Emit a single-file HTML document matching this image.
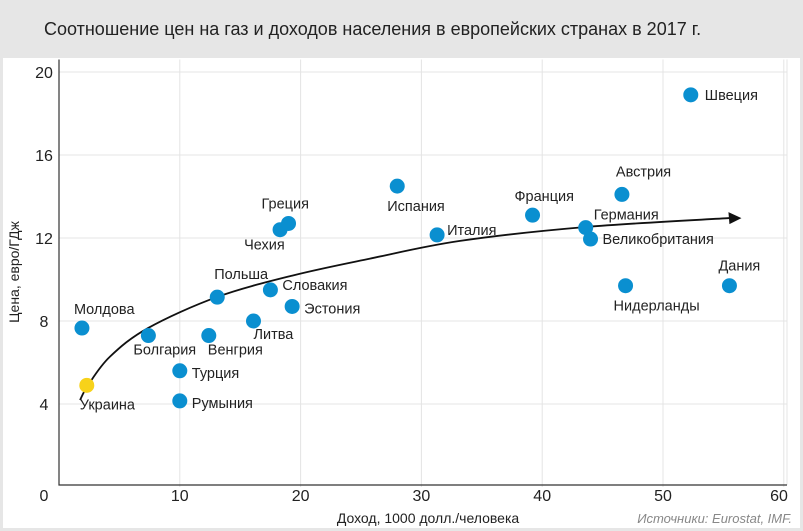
<!DOCTYPE html>
<html><head><meta charset="utf-8"><style>
body{margin:0;background:#e6e6e6;font-family:"Liberation Sans",sans-serif;}
svg{display:block}
</style></head><body>
<svg width="803" height="531">
<rect x="0" y="0" width="803" height="531" fill="#e6e6e6"/>
<rect x="3" y="58" width="797" height="470" fill="#fff"/>
<text x="44" y="35" font-size="18" fill="#222">Соотношение цен на газ и доходов населения в европейских странах в 2017 г.</text>
<g id="grid"></g><g id="axes"></g><g id="trend"></g><g id="pts"></g>
<text transform="translate(19,272) rotate(-90)" text-anchor="middle" font-size="14" fill="#222">Цена, евро/ГДж</text>
<text x="428" y="523" text-anchor="middle" font-size="14" fill="#222">Доход, 1000 долл./человека</text>
<text x="792" y="523" text-anchor="end" font-size="13" font-style="italic" fill="#888">Источники: Eurostat, IMF.</text>
</svg>
<script>
const countries=["Швеция","Молдова","Украина","Болгария","Турция","Румыния","Венгрия","Польша","Литва","Чехия","Греция","Словакия","Эстония","Испания","Италия","Франция","Австрия","Германия","Великобритания","Нидерланды","Дания"];
const income=[52.3,1.9,2.3,7.4,10.0,10.0,12.4,13.1,16.1,18.3,19.0,17.5,19.3,28.0,31.3,39.2,46.6,43.6,44.0,46.9,55.5];
const price=[18.9,7.66,4.9,7.3,5.6,4.15,7.3,9.15,8.0,12.4,12.7,9.5,8.7,14.5,12.15,13.1,14.1,12.5,11.95,9.7,9.7];
const trendX=[1.74,2.4,4.2,7.37,13.1,19.4,25.7,33.2,43.6,55.5];
const trendY=[4.19,4.9,6.27,7.66,9.16,10.2,11.0,11.86,12.53,12.96];
const xTicks=[0,10,20,30,40,50,60];
const yTicks=[0,4,8,12,16,20];
const labelOff=[[14,5,"start"],[-8,-14,"start"],[-7,24,"start"],[-15,19,"start"],[12,7,"start"],[12,7,"start"],[-1,19,"start"],[-3,-18,"start"],[0,18,"start"],[-36,20,"start"],[-27,-15,"start"],[12,0,"start"],[12,7,"start"],[-10,25,"start"],[10,0,"start"],[-18,-14,"start"],[-6,-18,"start"],[8,-8,"start"],[12,5,"start"],[-12,25,"start"],[-11,-15,"start"]];
const NS="http://www.w3.org/2000/svg";
const X=v=>59+v*12.08, Y=v=>487-v*20.75;
function mk(p,t,a){const e=document.createElementNS(NS,t);for(const k in a)e.setAttribute(k,a[k]);document.getElementById(p).appendChild(e);return e;}
xTicks.forEach((t,i)=>{
 if(t>0){const l=mk('grid','line',{x1:X(t),x2:X(t),y1:Y(20.6),y2:Y(0),stroke:'#e4e4e4'});
 
 }
 const tx=mk('axes','text',{x:t==0?44:(t==60?779:X(t)),y:501,'text-anchor':'middle','font-size':16,fill:'#222'});tx.textContent=t;
 
 
});
yTicks.forEach(t=>{
 if(t>0){const l=mk('grid','line',{x1:X(0),x2:787,y1:Y(t),y2:Y(t),stroke:'#e4e4e4'});
 
 
 const tx=mk('axes','text',{x:44,y:Y(t)+6,'text-anchor':'middle','font-size':16,fill:'#222'});tx.textContent=t;
 
 }
});
const rl=mk('grid','line',{x1:787,x2:787,y1:Y(20.6),y2:485,stroke:'#e4e4e4'});


const ax=mk('axes','path',{d:`M59 ${Y(20.6)} V485 H787`,fill:'none',stroke:'#333','stroke-width':1.2});


const P=trendX.map((v,i)=>[X(v),Y(trendY[i])]);
let d='M'+P[0][0]+' '+P[0][1];
for(let i=0;i<P.length-1;i++){
 const p0=P[Math.max(0,i-1)],p1=P[i],p2=P[i+1],p3=P[Math.min(P.length-1,i+2)];
 const c1=[p1[0]+(p2[0]-p0[0])/6,p1[1]+(p2[1]-p0[1])/6];
 const c2=[p2[0]-(p3[0]-p1[0])/6,p2[1]-(p3[1]-p1[1])/6];
 d+=` C${c1[0]} ${c1[1]} ${c2[0]} ${c2[1]} ${p2[0]} ${p2[1]}`;
}
const tr=mk('trend','path',{d:d,fill:'none',stroke:'#111','stroke-width':1.8,'stroke-linejoin':'round'});


const n=P.length,ex=P[n-1][0],ey=P[n-1][1];
const ar=mk('trend','path',{d:`M${ex+12} ${ey} L${ex-1} ${ey-6} L${ex} ${ey+6} Z`,fill:'#111'});


countries.forEach((c,i)=>{
 const cx=X(income[i]),cy=Y(price[i]);
 const p=mk('pts','circle',{cx:cx,cy:cy,r:7.5,fill:c=="Украина"?'#f7d21a':'#0a8fd0'});
 
 
 const o=labelOff[i];
 const t=mk('pts','text',{x:cx+o[0],y:cy+o[1],'text-anchor':o[2],'font-size':14.5,fill:'#222'});t.textContent=c;
 
 
});
</script>
</body></html>
